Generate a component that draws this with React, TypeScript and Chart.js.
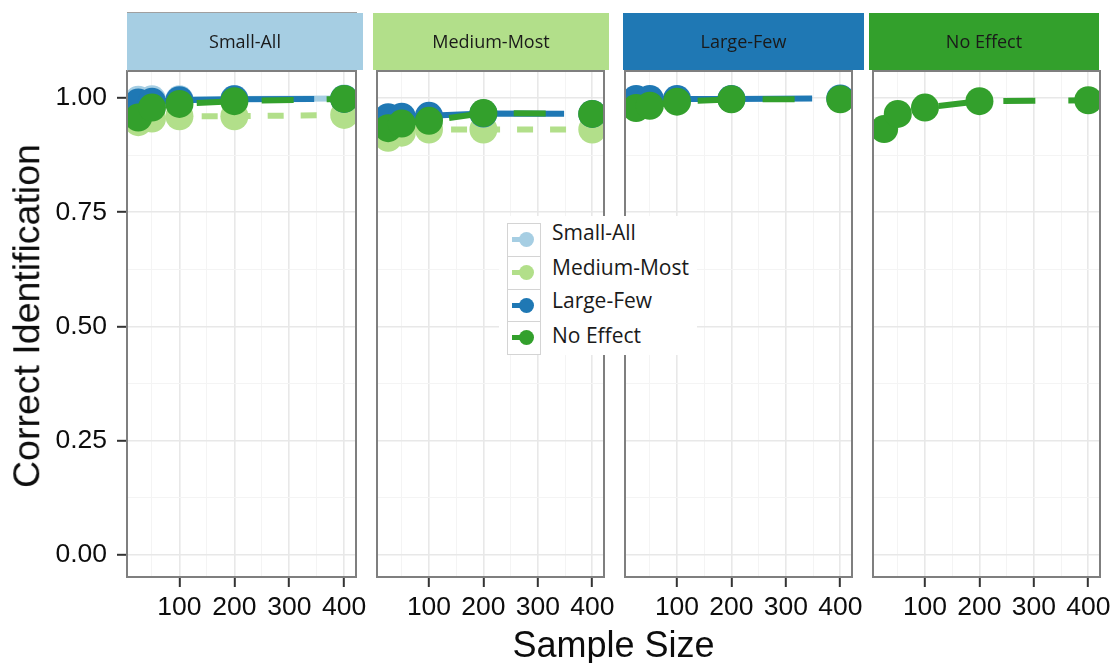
import React, { useEffect, useRef } from 'react';
import { Chart, registerables } from 'chart.js';

Chart.register(...registerables);

// Sample sizes on the x axis
const sampleSizes = [25, 50, 100, 200, 400];

// Facet titles and series (legend) names
const panelNames = ['Small-All', 'Medium-Most', 'Large-Few', 'No Effect'];
const seriesNames = ['Small-All', 'Medium-Most', 'Large-Few', 'No Effect'];
const seriesColors = ['#a6cee3', '#b2df8a', '#1f78b4', '#33a02c'];

// Proportion of correct identification, facet "Small-All"
const smallAllInSmallAll = [0.996, 0.997, 0.997, 0.998, 0.999];
const mediumMostInSmallAll = [0.947, 0.955, 0.96, 0.96, 0.963];
const largeFewInSmallAll = [0.99, 0.992, 0.995, 0.997, 0.998];
const noEffectInSmallAll = [0.957, 0.979, 0.987, 0.993, 0.998];

// Facet "Medium-Most"
const mediumMostInMediumMost = [0.913, 0.924, 0.931, 0.931, 0.931];
const largeFewInMediumMost = [0.958, 0.959, 0.961, 0.966, 0.965];
const noEffectInMediumMost = [0.934, 0.944, 0.95, 0.967, 0.965];

// Facet "Large-Few"
const largeFewInLargeFew = [0.998, 0.998, 0.998, 0.998, 0.999];
const noEffectInLargeFew = [0.978, 0.983, 0.992, 0.997, 0.997];

// Facet "No Effect"
const noEffectInNoEffect = [0.932, 0.965, 0.979, 0.993, 0.995];

const panelSeries: (number[] | null)[][] = [
  [smallAllInSmallAll, mediumMostInSmallAll, largeFewInSmallAll, noEffectInSmallAll],
  [null, mediumMostInMediumMost, largeFewInMediumMost, noEffectInMediumMost],
  [null, null, largeFewInLargeFew, noEffectInLargeFew],
  [null, null, null, noEffectInNoEffect],
];

// Axis ticks
const xTicksMajor = [100, 200, 300, 400];
const xTicksMinor = [50, 150, 250, 350];
const yTicksMajor = [0, 0.25, 0.5, 0.75, 1];
const yTicksMinor = [0.125, 0.375, 0.625, 0.875];

// Line styles per series
const seriesDash = [[], [16, 17], [176, 140], [32, 33]];
const seriesDashOffset = [0, 2, 0, 3];
const seriesOrder = [3, 2, 1, 0];

// Layout
const PANEL_LEFT = [127, 375, 623, 871];
const PANEL_W = 229;
const PLOT_TOP = 71;
const PLOT_BOTTOM = 577;
const CANVAS_TOP = 10;
const X_AXIS_H = 50;
const PAD_RIGHT = 22;
const STRIPS = [
  { left: 127, right: 363 },
  { left: 373, right: 609 },
  { left: 623, right: 864 },
  { left: 869, right: 1099 },
];

const TICK_FONT = "'Liberation Sans', Arial, sans-serif";
const LABEL_FONT = "'Open Sans', 'Noto Sans', sans-serif";

const panelFrame = {
  id: 'panelFrame',
  afterDraw(chart: any) {
    const { ctx, chartArea: a } = chart;
    ctx.save();
    ctx.strokeStyle = '#7f7f7f';
    ctx.lineWidth = 2;
    ctx.strokeRect(a.left, a.top, a.right - a.left, a.bottom - a.top);
    ctx.restore();
  },
};

function Panel({ index }: { index: number }) {
  const ref = useRef<HTMLCanvasElement | null>(null);
  const first = index === 0;
  const yAxisW = first ? 127 : 12;
  const left = PANEL_LEFT[index] - yAxisW;
  const width = yAxisW + PANEL_W + PAD_RIGHT;
  const height = PLOT_BOTTOM - CANVAS_TOP + X_AXIS_H;

  useEffect(() => {
    const canvas = ref.current;
    if (!canvas) return;
    const datasets: any[] = [];
    panelSeries[index].forEach((vals, s) => {
      if (!vals) return;
      datasets.push({
        label: seriesNames[s],
        data: sampleSizes.map((x, i) => ({ x, y: vals[i] })),
        borderColor: seriesColors[s],
        backgroundColor: seriesColors[s],
        borderWidth: 6,
        borderDash: seriesDash[s],
        borderDashOffset: seriesDashOffset[s],
        pointRadius: 14,
        pointBorderWidth: 0,
        pointBackgroundColor: seriesColors[s],
        tension: 0,
        clip: 0,
        order: seriesOrder[s],
      });
    });

    const xAll = [...xTicksMinor, ...xTicksMajor].sort((a, b) => a - b);
    const yAll = [...yTicksMinor, ...yTicksMajor].sort((a, b) => a - b);
    const majorX = (v: number) => xTicksMajor.includes(v);
    const majorY = (v: number) => yTicksMajor.includes(v);

    const chart = new Chart(canvas, {
      type: 'line',
      data: { datasets },
      options: {
        animation: false,
        responsive: false,
        devicePixelRatio: 1,
        events: [],
        layout: { padding: { top: PLOT_TOP - CANVAS_TOP, right: PAD_RIGHT, bottom: 0, left: 0 } },
        plugins: { legend: { display: false }, tooltip: { enabled: false } },
        scales: {
          x: {
            type: 'linear',
            min: 4.5,
            max: 421.5,
            afterBuildTicks: (scale: any) => {
              scale.ticks = xAll.map((v) => ({ value: v }));
            },
            afterFit: (scale: any) => {
              scale.height = X_AXIS_H;
            },
            border: { display: false },
            grid: {
              color: (c: any) => (c.tick && majorX(c.tick.value) ? '#e8e8e8' : '#f4f4f4'),
              lineWidth: (c: any) => (c.tick && majorX(c.tick.value) ? 1.6 : 1),
              drawTicks: true,
              tickLength: 10,
              tickWidth: 2,
              tickColor: (c: any) => (c.tick && majorX(c.tick.value) ? '#333333' : 'rgba(0,0,0,0)'),
            },
            ticks: {
              autoSkip: false,
              maxRotation: 0,
              padding: 5,
              color: '#0d0d0d',
              font: { family: TICK_FONT, size: 26.5 },
              callback: (v: any) => (majorX(Number(v)) ? String(v) : ''),
            },
          },
          y: {
            type: 'linear',
            min: -0.048,
            max: 1.059,
            afterBuildTicks: (scale: any) => {
              scale.ticks = yAll.map((v) => ({ value: v }));
            },
            afterFit: (scale: any) => {
              scale.width = yAxisW;
            },
            border: { display: false },
            grid: {
              color: (c: any) => (c.tick && majorY(c.tick.value) ? '#e8e8e8' : '#f4f4f4'),
              lineWidth: (c: any) => (c.tick && majorY(c.tick.value) ? 1.6 : 1),
              drawTicks: first,
              tickLength: 10,
              tickWidth: 2,
              tickColor: (c: any) => (c.tick && majorY(c.tick.value) ? '#333333' : 'rgba(0,0,0,0)'),
            },
            ticks: {
              display: first,
              autoSkip: false,
              padding: 10,
              color: '#0d0d0d',
              font: { family: TICK_FONT, size: 26.5 },
              callback: (v: any) => (majorY(Number(v)) ? Number(v).toFixed(2) : ''),
            },
          },
        },
      },
      plugins: [panelFrame],
    } as any);
    return () => chart.destroy();
  }, [index]);

  return (
    <canvas
      ref={ref}
      width={width}
      height={height}
      style={{ position: 'absolute', left, top: CANVAS_TOP, width, height }}
    />
  );
}

function Strip({ index }: { index: number }) {
  const s = STRIPS[index];
  return (
    <div
      style={{
        position: 'absolute',
        left: s.left,
        top: 13,
        width: s.right - s.left,
        height: 57,
        background: seriesColors[index],
        color: '#1a1a1a',
        fontFamily: LABEL_FONT,
        fontSize: 18,
        lineHeight: '57px',
        textAlign: 'center',
        whiteSpace: 'nowrap',
      }}
    >
      {panelNames[index]}
    </div>
  );
}

function Legend() {
  const rowTops = [223, 255.75, 288.5, 321.25];
  const textTops = [222, 256.5, 290, 325];
  return (
    <>
      <div style={{ position: 'absolute', left: 499, top: 216, width: 198, height: 139, background: '#ffffff' }} />
      {seriesNames.map((name, i) => (
        <React.Fragment key={name}>
          <div
            style={{
              position: 'absolute',
              left: 507,
              top: rowTops[i],
              width: 34,
              height: 33.75,
              boxSizing: 'border-box',
              border: '1px solid #d4d4d4',
            }}
          />
          <div
            style={{
              position: 'absolute',
              left: 512,
              top: rowTops[i] + 16.5 - 2.5,
              width: 14,
              height: 5,
              background: seriesColors[i],
            }}
          />
          <div
            style={{
              position: 'absolute',
              left: 526 - 7.5,
              top: rowTops[i] + 16.5 - 7.5,
              width: 15,
              height: 15,
              borderRadius: '50%',
              background: seriesColors[i],
            }}
          />
          <div
            style={{
              position: 'absolute',
              left: 552,
              top: textTops[i],
              fontFamily: LABEL_FONT,
              fontSize: 21,
              lineHeight: '21px',
              color: '#1a1a1a',
              whiteSpace: 'nowrap',
            }}
          >
            {name}
          </div>
        </React.Fragment>
      ))}
    </>
  );
}

export default function App() {
  return (
    <div
      style={{
        position: 'absolute',
        left: 0,
        top: 0,
        width: 1115,
        height: 663,
        overflow: 'hidden',
        background: '#ffffff',
      }}
    >
      {[0, 1, 2, 3].map((i) => (
        <Panel key={i} index={i} />
      ))}
      <div style={{ position: 'absolute', left: 127, top: 12, width: 230, height: 59, borderTop: '1px solid #a0a0a0', borderLeft: '1px solid #a0a0a0', boxSizing: 'border-box' }} />
      {[0, 1, 2, 3].map((i) => (
        <Strip key={i} index={i} />
      ))}
      <div
        style={{
          position: 'absolute',
          left: 27,
          top: 316,
          transform: 'translate(-50%, -50%) rotate(-90deg)',
          fontFamily: TICK_FONT,
          fontSize: 37.5,
          lineHeight: '37.5px',
          color: '#0d0d0d',
          whiteSpace: 'nowrap',
        }}
      >
        Correct Identification
      </div>
      <div
        style={{
          position: 'absolute',
          left: 613.5,
          top: 627,
          transform: 'translateX(-50%)',
          fontFamily: TICK_FONT,
          fontSize: 36,
          lineHeight: '36px',
          color: '#0d0d0d',
          whiteSpace: 'nowrap',
        }}
      >
        Sample Size
      </div>
      <Legend />
    </div>
  );
}
